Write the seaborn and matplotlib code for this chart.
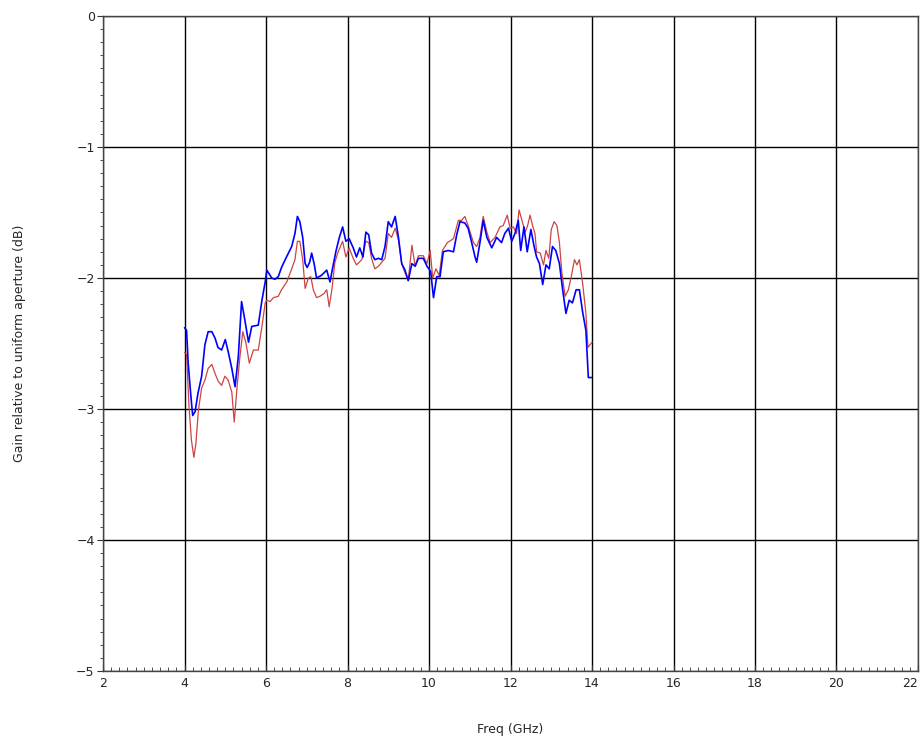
import pandas as pd
import matplotlib
matplotlib.use('Agg')
import matplotlib.pyplot as plt
import seaborn as sns
from matplotlib.ticker import MultipleLocator

# Curva azul
freq_azul = [4.00, 4.05, 4.09, 4.15, 4.20, 4.26, 4.33, 4.42, 4.50, 4.58, 4.67, 4.75,
             4.82, 4.91, 5.00, 5.07, 5.16, 5.24, 5.32, 5.40, 5.48, 5.57, 5.65, 5.81,
             5.90, 5.98, 6.02, 6.14, 6.22, 6.30, 6.38, 6.47, 6.55, 6.63, 6.71, 6.77,
             6.83, 6.90, 6.96, 7.01, 7.07, 7.12, 7.18, 7.24, 7.36, 7.49, 7.57, 7.63,
             7.72, 7.80, 7.88, 7.96, 8.04, 8.14, 8.22, 8.30, 8.38, 8.45, 8.52, 8.59,
             8.67, 8.76, 8.84, 8.92, 9.00, 9.08, 9.17, 9.25, 9.33, 9.41, 9.49, 9.58,
             9.66, 9.74, 9.86, 9.95, 10.04, 10.11, 10.19, 10.27, 10.35, 10.47, 10.60,
             10.68, 10.76, 10.88, 10.96, 11.04, 11.13, 11.17, 11.25, 11.33, 11.42,
             11.54, 11.66, 11.78, 11.86, 11.95, 12.03, 12.11, 12.19, 12.25, 12.33,
             12.41, 12.50, 12.58, 12.64, 12.71, 12.79, 12.87, 12.95, 13.03, 13.11,
             13.20, 13.28, 13.36, 13.44, 13.52, 13.61, 13.69, 13.77, 13.85, 13.91,
             13.99]
gain_azul = [-2.38, -2.40, -2.65, -2.88, -3.05, -3.02, -2.88, -2.75, -2.51, -2.41, -2.41, -2.46,
             -2.53, -2.55, -2.47, -2.56, -2.69, -2.83, -2.60, -2.18, -2.32, -2.49, -2.37, -2.36,
             -2.17, -2.03, -1.94, -2.00, -2.01, -1.99, -1.92, -1.86, -1.81, -1.76, -1.66, -1.53,
             -1.57, -1.69, -1.89, -1.92, -1.88, -1.81, -1.89, -2.00, -1.98, -1.94, -2.03, -1.93,
             -1.79, -1.69, -1.61, -1.72, -1.70, -1.77, -1.84, -1.77, -1.84, -1.65, -1.67, -1.81,
             -1.86, -1.85, -1.86, -1.76, -1.57, -1.61, -1.53, -1.69, -1.89, -1.94, -2.02, -1.89,
             -1.91, -1.85, -1.85, -1.91, -1.95, -2.15, -1.99, -1.99, -1.80, -1.79, -1.80,
             -1.67, -1.57, -1.58, -1.62, -1.72, -1.84, -1.88, -1.73, -1.56, -1.69,
             -1.77, -1.69, -1.73, -1.66, -1.62, -1.72, -1.66, -1.56, -1.79, -1.61,
             -1.80, -1.63, -1.76, -1.84, -1.89, -2.05, -1.90, -1.93, -1.76, -1.79,
             -1.89, -2.09, -2.27, -2.17, -2.19, -2.09, -2.09, -2.26, -2.40, -2.76,
             -2.76]

# Curva roja
freq_roja = [4.00, 4.05, 4.11, 4.17, 4.23, 4.28, 4.34, 4.42, 4.50, 4.58, 4.67, 4.75,
             4.83, 4.91, 4.99, 5.07, 5.16, 5.22, 5.29, 5.36, 5.43, 5.51, 5.59, 5.69,
             5.81, 5.90, 5.98, 6.02, 6.10, 6.18, 6.30, 6.38, 6.51, 6.63, 6.71, 6.77,
             6.83, 6.90, 6.96, 7.04, 7.10, 7.16, 7.24, 7.32, 7.42, 7.49, 7.55, 7.62,
             7.69, 7.77, 7.88, 7.96, 8.04, 8.14, 8.22, 8.35, 8.45, 8.52, 8.59, 8.67,
             8.76, 8.84, 8.92, 9.00, 9.08, 9.17, 9.25, 9.33, 9.41, 9.49, 9.58, 9.66,
             9.74, 9.86, 9.95, 10.03, 10.09, 10.17, 10.25, 10.33, 10.45, 10.60, 10.72,
             10.80, 10.88, 10.96, 11.09, 11.17, 11.25, 11.33, 11.42, 11.50, 11.62,
             11.74, 11.82, 11.92, 11.99, 12.07, 12.15, 12.21, 12.28, 12.36, 12.42,
             12.48, 12.55, 12.60, 12.64, 12.73, 12.81, 12.87, 12.94, 13.00, 13.07,
             13.14, 13.20, 13.26, 13.34, 13.42, 13.49, 13.57, 13.63, 13.69, 13.77,
             13.85, 13.90, 14.00]
gain_roja = [-2.57, -2.58, -2.98, -3.24, -3.37, -3.26, -3.01, -2.84, -2.78, -2.69, -2.66, -2.73,
             -2.79, -2.82, -2.75, -2.78, -2.87, -3.10, -2.83, -2.60, -2.41, -2.50, -2.65, -2.55,
             -2.55, -2.37, -2.19, -2.17, -2.18, -2.15, -2.14, -2.09, -2.03, -1.93, -1.86, -1.72,
             -1.72, -1.86, -2.08, -2.00, -1.99, -2.09, -2.15, -2.14, -2.12, -2.09, -2.22, -2.08,
             -1.88, -1.80, -1.72, -1.84, -1.77, -1.85, -1.90, -1.86, -1.72, -1.73, -1.85, -1.93,
             -1.91, -1.88, -1.85, -1.66, -1.69, -1.62, -1.71, -1.89, -1.96, -2.02, -1.75, -1.91,
             -1.83, -1.83, -1.89, -1.79, -2.00, -1.93, -1.98, -1.79, -1.73, -1.70, -1.56,
             -1.56, -1.53, -1.60, -1.73, -1.76, -1.69, -1.53, -1.65, -1.73, -1.69,
             -1.61, -1.60, -1.52, -1.62, -1.61, -1.66, -1.48, -1.56, -1.65, -1.60,
             -1.52, -1.61, -1.66, -1.80, -1.81, -1.90, -1.79, -1.85, -1.63, -1.57,
             -1.60, -1.73, -1.96, -2.14, -2.09, -1.99, -1.86, -1.90, -1.86, -2.04,
             -2.27, -2.53, -2.49]

xticks = [2, 4, 6, 8, 10, 12, 14, 16, 18, 20, 22]
yticks = [-5, -4, -3, -2, -1, 0]

df_azul = pd.DataFrame({'freq': freq_azul, 'gain': gain_azul})
df_roja = pd.DataFrame({'freq': freq_roja, 'gain': gain_roja})

sns.set_style('white')
plt.rcParams['font.family'] = ['DejaVu Sans']

fig = plt.figure(figsize=(9.24, 7.48), dpi=100)
ax = fig.add_axes([0.1115, 0.103, 0.882, 0.8756])

sns.lineplot(data=df_roja, x='freq', y='gain', color='#cc4444', linewidth=0.9,
             estimator=None, sort=False, ax=ax)
sns.lineplot(data=df_azul, x='freq', y='gain', color='#0000ff', linewidth=1.2,
             estimator=None, sort=False, ax=ax)

ax.set_xlim(2, 22)
ax.set_ylim(-5, 0)
ax.set_xticks(xticks)
ax.set_yticks(yticks)
ax.xaxis.set_minor_locator(MultipleLocator(0.2))
ax.yaxis.set_minor_locator(MultipleLocator(0.1))
ax.grid(True, which='major', color='black', linewidth=1)
ax.set_axisbelow(True)

for s in ax.spines.values():
    s.set_color('#444444')
    s.set_linewidth(1)

ax.tick_params(axis='x', which='both', bottom=True, direction='in', labelsize=9, pad=4,
               color='#333333')
ax.tick_params(axis='x', which='major', length=4)
ax.tick_params(axis='x', which='minor', length=3)
ax.tick_params(axis='y', which='both', left=True, direction='out', labelsize=9, pad=2,
               color='#333333')
ax.tick_params(axis='y', which='major', length=4)
ax.tick_params(axis='y', which='minor', length=2.5)

ax.set_xlabel('Freq (GHz)', fontsize=9, labelpad=24)
ax.set_ylabel('Gain relative to uniform aperture (dB)', fontsize=9, labelpad=36)

# la última etiqueta (22) alineada a la derecha para que no se corte
etiquetas = ax.get_xticklabels()
etiquetas[-1].set_horizontalalignment('right')

fig.savefig('out.png', dpi=100)
